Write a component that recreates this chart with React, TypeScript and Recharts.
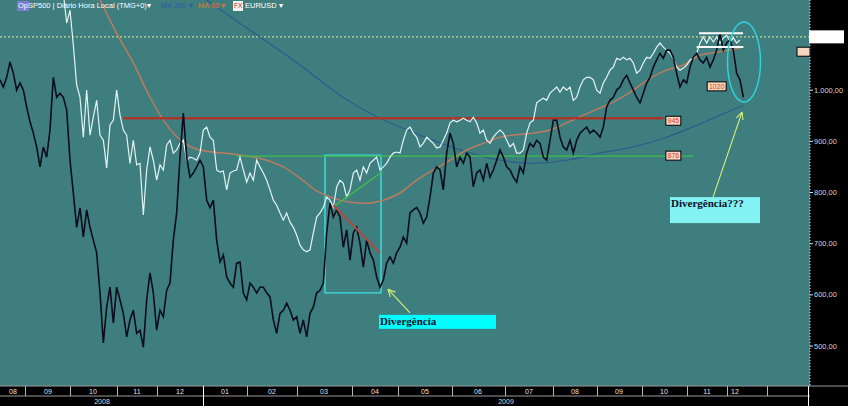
import React from 'react';
import {
  ComposedChart,
  Line,
  XAxis,
  YAxis,
  CartesianGrid,
  ReferenceLine,
  ReferenceArea,
  ReferenceDot,
} from 'recharts';

// ---------- data (x = bar index, ~1.6 trading days per bar) ----------
const sp500 = [
  1020, 1006, 1025, 1055, 1033, 1000, 1014, 1000, 967, 938,
  916, 889, 850, 889, 869, 922, 1025, 986, 994, 986,
  961, 863, 799, 732, 770, 713, 766, 732, 707, 682,
  604, 506, 576, 615, 545, 615, 590, 564, 518, 551,
  570, 525, 531, 498, 590, 643, 604, 531, 570, 557,
  609, 623, 707, 760, 869, 955, 869, 830, 838, 850,
  863, 850, 785, 770, 785, 707, 664, 678, 635, 623,
  615, 662, 664, 604, 590, 623, 615, 604, 615, 615,
  604, 596, 551, 525, 564, 570, 584, 570, 551, 557,
  525, 551, 518, 564, 576, 604, 609, 623, 721, 779,
  752, 766, 752, 693, 727, 668, 721, 732, 701, 654,
  707, 682, 668, 635, 615, 629, 662, 674, 662, 682,
  693, 713, 701, 760, 766, 771, 760, 740, 752, 791,
  838, 850, 844, 805, 877, 916, 896, 850, 869, 857,
  877, 869, 811, 838, 844, 824, 857, 830, 844, 863,
  883, 869, 850, 844, 830, 820, 850, 838, 877, 896,
  889, 902, 896, 869, 863, 902, 941, 941, 908, 889,
  883, 902, 877, 902, 916, 922, 928, 916, 922, 916,
  908, 928, 967, 980, 986, 1000, 1006, 1020, 1029, 1014,
  1000, 986, 975, 994, 1014, 1025, 1045, 1059, 1072, 1062,
  1078, 1078, 1064, 1033, 1006, 1020, 1014, 1045, 1064, 1072,
  1059, 1053, 1064, 1045, 1059, 1078, 1111, 1078, 1092, 1098,
  1078, 1033, 1020, 986,
];

// EURUSD overlay, expressed on the price scale, starts at bar 19
const eurusdStart = 19;
const eurusd = [
  1190, 1131, 1156, 1088, 1010, 986, 908, 1000, 912, 947, 980,
  912, 902, 848, 932, 941, 1000, 951, 922, 912, 857,
  902, 854, 857, 756, 844, 889, 863, 824, 854, 844,
  893, 902, 877, 883, 896, 902, 863, 869, 867, 863,
  877, 922, 928, 908, 902, 844, 840, 842, 805, 838,
  842, 844, 869, 844, 820, 838, 824, 863, 850, 838,
  824, 805, 785, 775, 760, 746, 760, 742, 732, 717,
  697, 688, 684, 688, 721, 752, 760, 771, 791, 785,
  771, 811, 824, 818, 791, 805, 838, 844, 824, 850,
  838, 857, 863, 869, 844, 850, 857, 869, 877, 879,
  877, 902, 922, 928, 916, 908, 889, 896, 908, 902,
  896, 887, 889, 902, 916, 936, 941, 938, 941, 945,
  941, 938, 947, 936, 916, 922, 902, 896, 908, 916,
  922, 916, 902, 889, 896, 877, 877, 883, 916, 936,
  941, 975, 980, 984, 980, 994, 1000, 1006, 996, 1006,
  1000, 1006, 980, 986, 1006, 1020, 1025, 1025, 1020, 1000,
  994, 1014, 1025, 1039, 1045, 1062, 1059, 1064, 1059, 1062,
  1053, 1033, 1039, 1053, 1064, 1062, 1072, 1084, 1092, 1084,
  1078, 1072, 1062, 1045, 1039, 1043, 1049, 1059, 1062, 1072,
  1092, 1104, 1092, 1104, 1094, 1104, 1092, 1102, 1107, 1094,
  1102, 1092, 1098,
];

const ma50Bars = [20, 30, 35, 40, 45, 50, 55, 60, 70, 80, 85, 90, 95, 100, 105, 110, 115, 120, 125, 130, 135, 140, 145, 150, 160, 165, 170, 175, 180, 185, 190, 195, 200, 205, 210, 215, 222];
const ma50Values = [1300, 1176, 1111, 1053, 986, 932, 898, 883, 875, 863, 850, 828, 803, 789, 781, 779, 785, 799, 824, 844, 863, 883, 896, 908, 916, 922, 936, 951, 965, 980, 1000, 1023, 1039, 1049, 1068, 1074, 1082];

const ma200Bars = [55, 62, 75, 90, 102, 114, 120, 130, 140, 150, 160, 170, 180, 190, 200, 210, 220, 223];
const ma200Values = [1209, 1176, 1117, 1049, 990, 945, 928, 902, 879, 863, 857, 863, 877, 889, 908, 934, 962, 970];

const priceTicks = [500, 600, 700, 800, 900, 1000];
const monthLabels = ['08', '09', '10', '11', '12', '01', '02', '03', '04', '05', '06', '07', '08', '09', '10', '11', '12', ''];
const monthBounds = [-14, 7.5, 21, 35, 47, 61, 74, 89, 105.5, 119.5, 135.5, 151.5, 166, 179, 192.5, 206, 218, 230, 242.5];
const yearLabels = ['2008', '2009'];
const yearBounds = [0, 61, 242.5];

const resistance = 945;
const resistanceLabel = '945';
const support = 871;
const supportLabel = '876';
const lastTopLabel = '1020';
const lastTopLevel = 1020;
const priceMarker = 1104;

// ---------- derived ----------
const X_MAX = 243;
const Y_DOMAIN: [number, number] = [422, 1176];
const lastBar = sp500.length - 1;

const sp500Data = sp500.map((v, i) => ({ i, v }));
const eurusdData = eurusd.map((v, k) => ({ i: k + eurusdStart, v }));
const ma50Data = ma50Bars.map((b, k) => ({ i: b, v: ma50Values[k] }));
const ma200Data = ma200Bars.map((b, k) => ({ i: b, v: ma200Values[k] }));

const monthCenters = monthLabels.map(
  (_, k) => (Math.max(monthBounds[k], 0) + Math.min(monthBounds[k + 1], lastBar)) / 2
);
const monthBoundTicks = monthBounds.filter((b) => b >= 0);
const monthCenterTicks = monthCenters.filter((_, k) => monthLabels[k] !== '');
const monthTicks = [...monthBoundTicks, ...monthCenterTicks];
const yearCenters = yearLabels.map((_, k) => (yearBounds[k] + yearBounds[k + 1]) / 2);
const yearTicks = [yearBounds[1], yearBounds[2], ...yearCenters];

const near = (a: number, b: number) => Math.abs(a - b) < 1e-6;

const fmtPrice = (v: number) => {
  const [a, b] = v.toFixed(2).split('.');
  return a.replace(/\B(?=(\d{3})+(?!\d))/g, '.') + ',' + b;
};

const AX_FONT = '"Liberation Sans", Arial, sans-serif';

const MonthTick = (props: any) => {
  const { x, y, payload } = props;
  const v = payload.value;
  const px = Math.round(x) + 0.5;
  if (monthBoundTicks.some((b) => near(b, v))) {
    const isYear = near(v, yearBounds[1]) || near(v, yearBounds[2]);
    return (
      <g>
        <line x1={px} x2={px} y1={y} y2={y + 10} stroke={isYear ? '#ffffff' : '#b4b4b4'} strokeWidth={1} />
        {near(v, yearBounds[2]) && <line x1={px} x2={px + 45} y1={y} y2={y} stroke="#9a9a9a" />}
      </g>
    );
  }
  const k = monthCenters.findIndex((c) => near(c, v));
  return (
    <text x={Math.round(x)} y={Math.round(y + 7.5)} textAnchor="middle" fontSize={7} fill="#e6e6e6" stroke="none" fontFamily={AX_FONT}>
      {monthLabels[k]}
    </text>
  );
};

const YearTick = (props: any) => {
  const { x, y, payload } = props;
  const v = payload.value;
  const px = Math.round(x) + 0.5;
  if (near(v, yearBounds[1]) || near(v, yearBounds[2])) {
    return <line x1={px} x2={px} y1={y} y2={y + 10} stroke="#ffffff" strokeWidth={1} />;
  }
  const k = yearCenters.findIndex((c) => near(c, v));
  return (
    <text x={Math.round(x)} y={Math.round(y + 8)} textAnchor="middle" fontSize={7} fill="#d8d8d8" stroke="none" fontFamily={AX_FONT}>
      {yearLabels[k]}
    </text>
  );
};

const PriceTick = (props: any) => {
  const { x, y, payload } = props;
  return (
    <g>
      <line x1={x} x2={x + 3} y1={y} y2={y} stroke="#dddddd" />
      <text x={Math.round(x + 4)} y={Math.round(y + 2.5)} fontSize={7.5} fill="#d4d4d4" stroke="none" fontFamily={AX_FONT}>
        {fmtPrice(payload.value)}
      </text>
    </g>
  );
};

const levelTag = (text: string, w: number, dy: number) => (p: any) => (
  <g>
    <rect x={p.cx - w / 2} y={p.cy + dy} width={w} height={9} fill="#f6d6bf" stroke="#000" strokeWidth={1} />
    <text x={p.cx} y={p.cy + dy + 7} textAnchor="middle" fontSize={7} fill="#d8401a" fontFamily={AX_FONT}>
      {text}
    </text>
  </g>
);

const noteBox = (text: string, w: number, h: number, fill: string) => (p: any) => (
  <g>
    <rect x={p.cx} y={p.cy} width={w} height={h} fill={fill} />
    <text
      x={p.cx + 1}
      y={p.cy + 10}
      fontSize={11}
      fontWeight="bold"
      fill="#0c0c28"
      fontFamily='"Liberation Serif", "DejaVu Serif", serif'
    >
      {text}
    </text>
  </g>
);

const arrowShape = (p: any) => {
  const { x1, y1, x2, y2 } = p;
  const ang = Math.atan2(y2 - y1, x2 - x1);
  const L = 8;
  const a1 = ang + Math.PI - 0.45;
  const a2 = ang + Math.PI + 0.45;
  return (
    <g stroke="#d6f27c" strokeWidth={1.1} fill="none">
      <line x1={x1} y1={y1} x2={x2} y2={y2} />
      <line x1={x2} y1={y2} x2={x2 + L * Math.cos(a1)} y2={y2 + L * Math.sin(a1)} />
      <line x1={x2} y1={y2} x2={x2 + L * Math.cos(a2)} y2={y2 + L * Math.sin(a2)} />
    </g>
  );
};

const ellipseShape = (p: any) => (
  <ellipse cx={p.cx} cy={p.cy} rx={16.5} ry={40} fill="none" stroke="#2fd6e0" strokeWidth={1.4} />
);

const markerBox = (p: any) => (
  <rect x={p.cx - 1} y={p.cy - 6.5} width={35} height={13} fill="#ffffff" />
);
const smallTag = (p: any) => (
  <rect x={p.cx - 13} y={p.cy - 4.5} width={13} height={9} fill="#f6d6bf" stroke="#000" strokeWidth={1} />
);

const legendStyle: React.CSSProperties = {
  position: 'absolute',
  top: 1,
  fontFamily: AX_FONT,
  fontSize: 7.5,
  lineHeight: '10px',
  whiteSpace: 'nowrap',
};

export default function App() {
  return (
    <div style={{ position: 'absolute', left: 0, top: 0, width: 848, height: 406, background: '#000' }}>
      <ComposedChart width={848} height={406} margin={{ top: 0, right: 0, bottom: 0, left: 0 }}>
        <CartesianGrid xAxisId="m" yAxisId="p" horizontal={false} vertical={false} stroke="none" fill="#3f7e7e" />
        <XAxis
          xAxisId="m"
          type="number"
          dataKey="i"
          domain={[0, X_MAX]}
          allowDataOverflow
          ticks={monthTicks}
          interval={0}
          height={10}
          tickSize={0}
          tickMargin={0}
          tickLine={false}
          axisLine={{ stroke: '#9a9a9a' }}
          tick={<MonthTick />}
        />
        <XAxis
          xAxisId="y"
          type="number"
          dataKey="i"
          domain={[0, X_MAX]}
          allowDataOverflow
          ticks={yearTicks}
          interval={0}
          height={10}
          tickSize={0}
          tickMargin={0}
          tickLine={false}
          axisLine={{ stroke: '#9a9a9a' }}
          tick={<YearTick />}
        />
        <YAxis
          yAxisId="p"
          orientation="right"
          width={38}
          type="number"
          domain={Y_DOMAIN}
          allowDataOverflow
          ticks={priceTicks}
          interval={0}
          tickSize={0}
          tickMargin={0}
          tickLine={false}
          axisLine={{ stroke: '#e8e8e8', strokeDasharray: '1 2' }}
          tick={<PriceTick />}
        />

        <ReferenceLine xAxisId="m" yAxisId="p" y={priceMarker} stroke="#e6f0a0" strokeDasharray="2 2" strokeWidth={1} />

        <Line xAxisId="m" yAxisId="p" data={ma200Data} dataKey="v" type="monotone" stroke="#2c5d8c" strokeWidth={1.2} dot={false} isAnimationActive={false} />
        <Line xAxisId="m" yAxisId="p" data={ma50Data} dataKey="v" type="monotone" stroke="#b97c5e" strokeWidth={1.5} dot={false} isAnimationActive={false} />

        <ReferenceLine xAxisId="m" yAxisId="p" segment={[{ x: 37, y: resistance }, { x: 199, y: resistance }]} stroke="#a8362b" strokeWidth={2.5} />
        <ReferenceLine xAxisId="m" yAxisId="p" segment={[{ x: 71, y: support }, { x: 208, y: support }]} stroke="#3cc04c" strokeWidth={1.4} />

        <Line xAxisId="m" yAxisId="p" data={eurusdData} dataKey="v" type="linear" stroke="#e4f4f4" strokeWidth={1.2} dot={false} isAnimationActive={false} />
        <Line xAxisId="m" yAxisId="p" data={sp500Data} dataKey="v" type="linear" stroke="#0b0d1c" strokeWidth={1.6} dot={false} isAnimationActive={false} />

        <ReferenceLine xAxisId="m" yAxisId="p" segment={[{ x: 100, y: 772 }, { x: 114.6, y: 840 }]} stroke="#3cc04c" strokeWidth={1.4} />
        <ReferenceLine xAxisId="m" yAxisId="p" segment={[{ x: 100, y: 775 }, { x: 114, y: 682 }]} stroke="#b04a3c" strokeWidth={2} />

        <ReferenceArea xAxisId="m" yAxisId="p" x1={97.5} x2={114.3} y1={604} y2={873} fill="none" stroke="#3fe0e6" strokeWidth={1.4} />

        <ReferenceLine xAxisId="m" yAxisId="p" segment={[{ x: 209.7, y: 1111 }, { x: 222.9, y: 1111 }]} stroke="#ffffff" strokeWidth={2} />
        <ReferenceLine xAxisId="m" yAxisId="p" segment={[{ x: 209, y: 1084 }, { x: 223, y: 1084 }]} stroke="#ffffff" strokeWidth={2} />

        <ReferenceDot xAxisId="m" yAxisId="p" x={223.2} y={1055} shape={ellipseShape} />

        <ReferenceDot xAxisId="m" yAxisId="p" x={202} y={resistance} shape={levelTag(resistanceLabel, 15, -2)} />
        <ReferenceDot xAxisId="m" yAxisId="p" x={202} y={support} shape={levelTag(supportLabel, 15, -5)} />
        <ReferenceDot xAxisId="m" yAxisId="p" x={215} y={lastTopLevel} shape={levelTag(lastTopLabel, 19, 2)} />

        <ReferenceLine xAxisId="m" yAxisId="p" segment={[{ x: 123, y: 565 }, { x: 116.4, y: 611 }]} shape={arrowShape} />
        <ReferenceLine xAxisId="m" yAxisId="p" segment={[{ x: 213.9, y: 791 }, { x: 222.6, y: 957 }]} shape={arrowShape} />

        <ReferenceDot xAxisId="m" yAxisId="p" x={113.7} y={561} shape={noteBox('Divergência', 117, 14, '#00ffff')} />
        <ReferenceDot xAxisId="m" yAxisId="p" x={201} y={791} shape={noteBox('Divergência???', 90, 26, '#82f2f2')} />

        <ReferenceDot xAxisId="m" yAxisId="p" x={X_MAX} y={priceMarker} shape={markerBox} />
        <ReferenceDot xAxisId="m" yAxisId="p" x={X_MAX} y={1075} shape={smallTag} />
      </ComposedChart>

      <div style={{ ...legendStyle, left: 17, background: '#7c7cd4', color: '#fff', padding: '0 1px' }}>Op</div>
      <div style={{ ...legendStyle, left: 28, color: '#ffffff' }}>SP500 | Diário Hora Local (TMG+0)▾</div>
      <div style={{ ...legendStyle, left: 161, color: '#2a5aa6' }}>MA 200 ▾</div>
      <div style={{ ...legendStyle, left: 198, color: '#e0742c' }}>MA 50 ▾</div>
      <div style={{ ...legendStyle, left: 233, background: '#f4f4f4', color: '#c02020', padding: '0 1px', fontSize: 6.5 }}>FX</div>
      <div style={{ ...legendStyle, left: 245, color: '#ffffff' }}>EURUSD ▾</div>
    </div>
  );
}
